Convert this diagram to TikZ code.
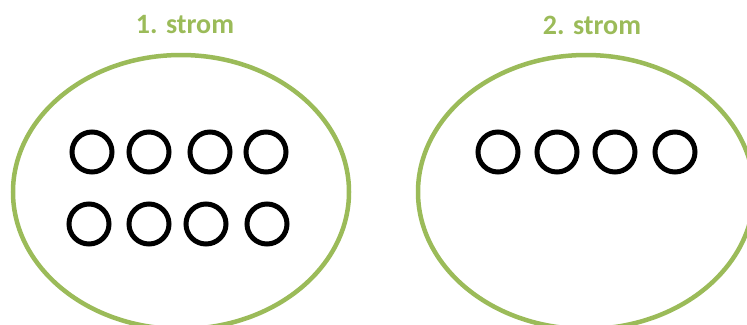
\documentclass[tikz,border=0pt]{standalone}
\usepackage{fontspec}
\setmainfont{Carlito}
\usetikzlibrary{shapes.geometric}
\definecolor{strgreen}{HTML}{9BBB59}
\tikzset{
  setbox/.style={draw=strgreen, line width=4.5pt, ellipse, minimum width=336pt, minimum height=274pt, inner sep=0pt},
  elem/.style={draw=black, line width=5pt, circle, minimum size=40pt, inner sep=0pt},
  title/.style={text=strgreen, font=\bfseries\fontsize{28}{32}\selectfont, inner sep=0pt}
}
\begin{document}
\begin{tikzpicture}[x=1pt,y=-1pt]
\useasboundingbox (0,0) rectangle (747,324);
\node[setbox] (s1) at (181,192) {};
\node[setbox] (s2) at (586,192) {};
\node[title] (t1) at (185,25) {1. strom};
\node[title] (t2) at (592,25) {2. strom};
\node[elem] (a1) at (92,152) {};
\node[elem] (a2) at (149,152) {};
\node[elem] (a3) at (210,152) {};
\node[elem] (a4) at (266,152) {};
\node[elem] (b1) at (89,224) {};
\node[elem] (b2) at (149,224) {};
\node[elem] (b3) at (206,224) {};
\node[elem] (b4) at (267,224) {};
\node[elem] (c1) at (498,152) {};
\node[elem] (c2) at (557,152) {};
\node[elem] (c3) at (615,152) {};
\node[elem] (c4) at (675,152) {};
\end{tikzpicture}
\end{document}
